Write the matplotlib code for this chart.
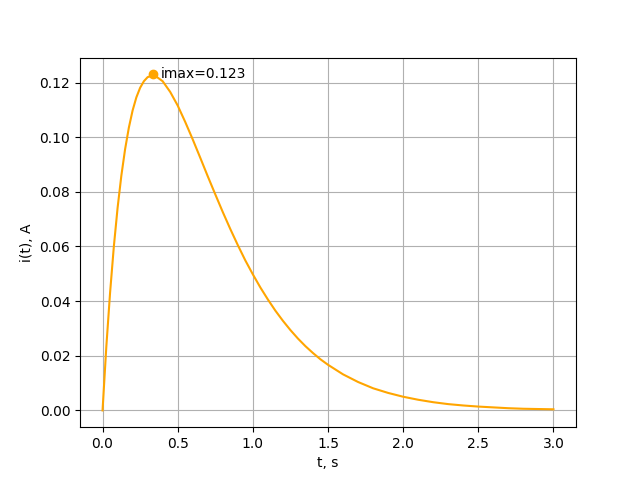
import matplotlib
matplotlib.use("Agg")
import matplotlib.pyplot as plt

# values
t = [0.0, 0.025, 0.05, 0.075, 0.1, 0.125, 0.15, 0.175, 0.2, 0.225, 0.25, 0.275,
     0.3, 0.333, 0.35, 0.4, 0.45, 0.5, 0.55, 0.6, 0.65, 0.7, 0.75, 0.8, 0.85,
     0.9, 0.95, 1.0, 1.05, 1.1, 1.15, 1.2, 1.25, 1.3, 1.35, 1.4, 1.45, 1.5,
     1.6, 1.7, 1.8, 1.9, 2.0, 2.1, 2.2, 2.3, 2.4, 2.5, 2.6, 2.7, 2.8, 2.9, 3.0]
i = [0.0, 0.0232, 0.0430, 0.0599, 0.0741, 0.0859, 0.0956, 0.1035, 0.1098,
     0.1146, 0.1181, 0.1205, 0.1220, 0.1226, 0.1225, 0.1205, 0.1166, 0.1116,
     0.1056, 0.0992, 0.0925, 0.0857, 0.0791, 0.0726, 0.0664, 0.0605, 0.0549,
     0.0498, 0.0450, 0.0406, 0.0365, 0.0328, 0.0294, 0.0263, 0.0235, 0.0210,
     0.0187, 0.0167, 0.0132, 0.0104, 0.0081, 0.0064, 0.0050, 0.0039, 0.0030,
     0.0023, 0.0018, 0.0014, 0.0011, 0.0008, 0.0006, 0.0005, 0.0004]
t_max = 0.333
i_max = 0.123
label = "imax=0.123"

fig, ax = plt.subplots(figsize=(6.4, 4.8), dpi=100)
ax.plot(t, i, color="orange")
ax.plot([t_max], [i_max], "o", color="orange")
ax.text(t_max + 0.057, i_max, label, va="center")
ax.set_xlabel("t, s")
ax.set_ylabel("i(t), A")
ax.grid(True)
fig.savefig("out.png")
